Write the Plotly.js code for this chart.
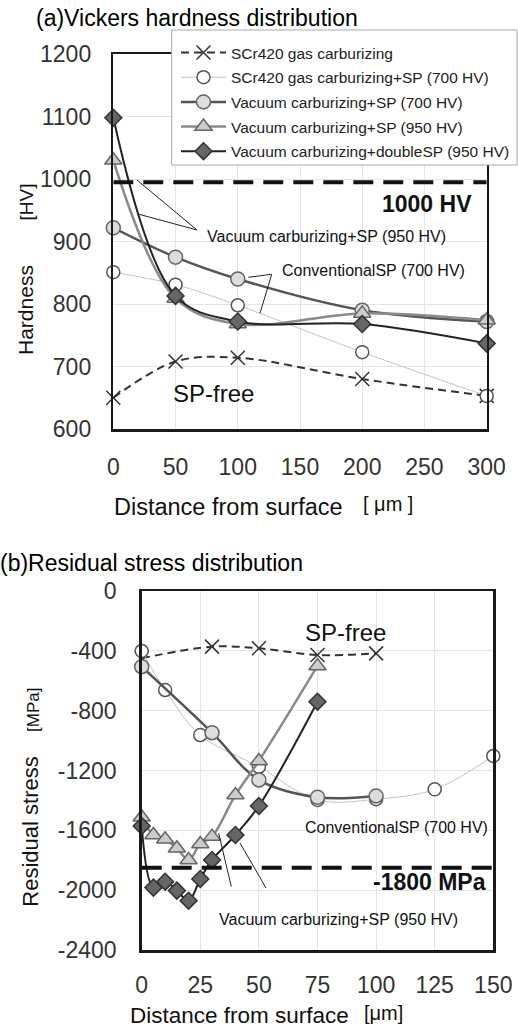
<!DOCTYPE html>
<html>
<head>
<meta charset="utf-8">
<script src="https://cdn.plot.ly/plotly-3.0.1.min.js"></script>
<style>html,body{margin:0;padding:0;background:#fff;}#chart{width:518px;height:1027px;}</style>
</head>
<body>
<div id="chart"></div>
<script>
// ---------- (a) Vickers hardness distribution ----------
const hvDist = [0, 50, 100, 200, 300];
const hvGas = [650, 708, 714, 680, 653];
const hvGasSP700 = [851, 831, 798, 723, 653];
const hvVacSP700 = [922, 875, 840, 790, 772];
const hvVacSP950 = [1030, 809, 768, 785, 774];
const hvVacDoubleSP950 = [1098, 813, 772, 768, 737];
const hvLimit = 995;

// ---------- (b) Residual stress distribution ----------
const rsGasDist = [0, 30, 50, 75, 100];
const rsGas = [-450, -372, -383, -428, -417];
const rsGasSPDist = [0, 10, 25, 50, 75, 100, 125, 150];
const rsGasSP700 = [-401, -662, -963, -1175, -1397, -1392, -1326, -1103];
const rsVacSP700Dist = [0, 30, 50, 75, 100];
const rsVacSP700 = [-506, -947, -1263, -1379, -1370];
const rsVacSP950Dist = [0, 5, 10, 15, 20, 25, 30, 40, 50, 75];
const rsVacSP950 = [-1513, -1631, -1660, -1720, -1798, -1691, -1642, -1364, -1136, -501];
const rsDoubleDist = [0, 5, 10, 15, 20, 25, 30, 40, 50, 75];
const rsDouble = [-1571, -1983, -1943, -2003, -2070, -1925, -1798, -1631, -1437, -740];
const rsLimit = -1850;
const rsTickVals = [0, -400, -800, -1200, -1600, -2000, -2400];
const rsTickText = ['0', '-400', '-800', '-1200', '-1600', '-2000', '-2400'];

const seriesNames = [
  'SCr420 gas carburizing',
  'SCr420 gas carburizing+SP (700 HV)',
  'Vacuum carburizing+SP (700 HV)',
  'Vacuum carburizing+SP (950 HV)',
  'Vacuum carburizing+doubleSP (950 HV)'
];

const FONT = 'Liberation Sans, Arial, sans-serif';
const W = 518, H = 1027;
const px = (x) => x / W;
const py = (y) => 1 - y / H;

const styles = [
  {line: {color: '#333', width: 2, dash: '8px,5px', shape: 'spline', smoothing: 1},
   marker: {symbol: 'x-thin-open', size: 14, color: '#333', line: {color: '#333', width: 1.5}}},
  {line: {color: '#c4c4c4', width: 1, shape: 'spline', smoothing: 1},
   marker: {symbol: 'circle', size: 13, color: '#fff', line: {color: '#555', width: 1.5}}},
  {line: {color: '#555', width: 2.5, shape: 'spline', smoothing: 1},
   marker: {symbol: 'circle', size: 14, color: '#ddd', line: {color: '#666', width: 1.5}}},
  {line: {color: '#8a8a8a', width: 2.5, shape: 'spline', smoothing: 1},
   marker: {symbol: 'triangle-up', size: 15, color: '#ccc', line: {color: '#666', width: 1.5}}},
  {line: {color: '#222', width: 2, shape: 'spline', smoothing: 1},
   marker: {symbol: 'diamond', size: 13, color: '#666', line: {color: '#333', width: 1.5}}}
];

const topX = [hvDist, hvDist, hvDist, hvDist, hvDist];
const topY = [hvGas, hvGasSP700, hvVacSP700, hvVacSP950, hvVacDoubleSP950];
const botX = [rsGasDist, rsGasSPDist, rsVacSP700Dist, rsVacSP950Dist, rsDoubleDist];
const botY = [rsGas, rsGasSP700, rsVacSP700, rsVacSP950, rsDouble];

const traces = [];
for (let i = 0; i < 5; i++) {
  traces.push({
    type: 'scatter', mode: 'lines+markers', name: seriesNames[i],
    x: topX[i], y: topY[i], xaxis: 'x', yaxis: 'y',
    line: styles[i].line, marker: styles[i].marker,
    legendgroup: 'g' + i, cliponaxis: false, showlegend: true
  });
}
for (let i = 0; i < 5; i++) {
  traces.push({
    type: 'scatter', mode: 'lines+markers', name: seriesNames[i],
    x: botX[i], y: botY[i], xaxis: 'x2', yaxis: 'y2',
    line: styles[i].line, marker: styles[i].marker,
    legendgroup: 'g' + i, cliponaxis: false, showlegend: false
  });
}

const axisCommon = {
  showgrid: true, gridcolor: '#e4e4e4', gridwidth: 1,
  showline: true, mirror: true, linecolor: '#1a1a1a', linewidth: 2.5,
  zeroline: false, ticks: '', fixedrange: true,
  tickfont: {family: FONT, size: 23, color: '#333'}
};

const annText = (text, x, y, size, anchor, extra) => Object.assign({
  text: text, x: px(x), y: py(y), xref: 'paper', yref: 'paper',
  xanchor: anchor, yanchor: 'middle', showarrow: false,
  font: {family: FONT, size: size, color: '#111'}
}, extra || {});

const leader = (x0, y0, x1, y1) => ({
  type: 'line', xref: 'paper', yref: 'paper',
  x0: px(x0), y0: py(y0), x1: px(x1), y1: py(y1),
  line: {color: '#222', width: 1}
});

const layout = {
  width: W, height: H,
  margin: {l: 0, r: 0, t: 0, b: 0, pad: 0},
  paper_bgcolor: '#fff', plot_bgcolor: '#fff',
  font: {family: FONT, color: '#222'},
  xaxis: Object.assign({}, axisCommon, {
    domain: [px(113.3), px(486.7)], range: [0, 300], dtick: 50, tick0: 0,
    anchor: 'y', ticklabelstandoff: 16
  }),
  yaxis: Object.assign({}, axisCommon, {
    domain: [py(429), py(54)], range: [600, 1200], dtick: 100, tick0: 600,
    anchor: 'x', ticklabelstandoff: 15
  }),
  xaxis2: Object.assign({}, axisCommon, {
    domain: [px(141.7), px(493.3)], range: [0, 150], dtick: 25, tick0: 0,
    anchor: 'y2', ticklabelstandoff: 13
  }),
  yaxis2: Object.assign({}, axisCommon, {
    domain: [py(950), py(591)], range: [-2400, 0],
    tickmode: 'array', tickvals: rsTickVals, ticktext: rsTickText,
    anchor: 'x2', ticklabelstandoff: 18
  }),
  showlegend: true,
  legend: {
    x: px(176), y: py(36), xanchor: 'left', yanchor: 'top',
    bgcolor: 'rgba(0,0,0,0)', borderwidth: 0,
    traceorder: 'grouped', tracegroupgap: 1.5, itemwidth: 45,
    font: {family: FONT, size: 15.5, color: '#222'}
  },
  shapes: [
    {type: 'line', xref: 'x', yref: 'y', x0: 0, x1: 300, y0: hvLimit, y1: hvLimit,
     line: {color: '#111', width: 4, dash: '20px,10px'}},
    {type: 'line', xref: 'x2', yref: 'y2', x0: 0, x1: 150, y0: rsLimit, y1: rsLimit,
     line: {color: '#111', width: 4, dash: '20px,10px'}},
    {type: 'rect', xref: 'paper', yref: 'paper', layer: 'above',
     x0: px(171.7), x1: px(517), y0: py(30), y1: py(165),
     fillcolor: '#fff', line: {color: '#aaa', width: 1}},
    leader(197, 230, 137, 180),
    leader(197, 230, 138, 214),
    leader(271.7, 274.3, 248.3, 277.3),
    leader(271.7, 274.3, 260, 313.3),
    leader(218.7, 833.3, 231.3, 886.7),
    leader(240, 843, 266, 888)
  ],
  annotations: [
    annText('(a)Vickers hardness distribution', 34, 18, 23, 'left', {font: {family: FONT, size: 23, color: '#000'}}),
    annText('(b)Residual stress distribution', -2, 563, 23, 'left', {font: {family: FONT, size: 23, color: '#000'}}),
    annText('Hardness', 25, 310, 21, 'center', {textangle: -90}),
    annText('[HV]', 26, 202.5, 19, 'center', {textangle: -90}),
    annText('Residual stress', 31, 831.7, 22, 'center', {textangle: -90}),
    annText('[MPa]', 33, 710, 17, 'center', {textangle: -90}),
    annText('Distance from surface', 228, 506.7, 23.5, 'center'),
    annText('[ μm ]', 387.5, 504, 20, 'center'),
    annText('Distance from surface', 239, 1015, 22.5, 'center'),
    annText('[μm]', 383, 1013, 20, 'center'),
    annText('<b>1000 HV</b>', 474, 204, 23, 'right'),
    annText('Vacuum carburizing+SP (950 HV)', 205, 236.7, 16, 'left'),
    annText('ConventionalSP (700 HV)', 280, 270.7, 16, 'left'),
    annText('SP-free', 171, 393.3, 24, 'left'),
    annText('SP-free', 303, 632.7, 24, 'left'),
    annText('ConventionalSP (700 HV)', 303, 827.3, 16, 'left'),
    annText('Vacuum carburizing+SP (950 HV)', 217, 919, 16, 'left'),
    annText('<b>-1800 MPa</b>', 488, 881.7, 23, 'right')
  ]
};

Plotly.newPlot('chart', traces, layout, {displayModeBar: false, staticPlot: true});
</script>
</body>
</html>
